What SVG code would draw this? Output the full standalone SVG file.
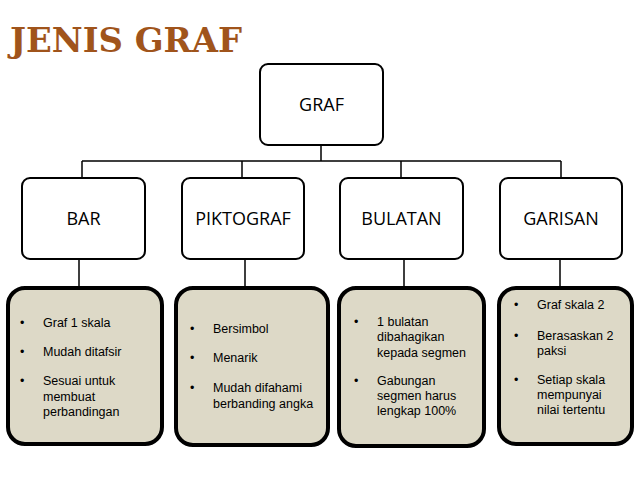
<svg xmlns="http://www.w3.org/2000/svg" width="638" height="479" viewBox="0 0 638 479">
<style>
.box{fill:#fff;stroke:#000;stroke-width:2}
.det{fill:#DDD9C7;stroke:#000;stroke-width:4}
.lbl{font-family:"Open Sans","Liberation Sans",sans-serif;font-size:18px;text-anchor:middle;fill:#000}
.t{font-family:"Liberation Sans",Arial,sans-serif;font-size:12.5px;fill:#000}
.c{stroke:#000;stroke-width:1.5;fill:none}
</style>
<rect width="638" height="479" fill="#fff"/>
<text x="10" y="52" font-family="DejaVu Serif,serif" font-weight="bold" font-size="34" fill="#A0541B" textLength="232" lengthAdjust="spacingAndGlyphs">JENIS GRAF</text>
<g id="connectors">
<path class="c" d="M321 145V161M82 161H561M82 161V178M242 161V178M401 161V178M561 161V178M79 259V287M245 259V287M404 259V287M560 259V287"/>
</g>
<g id="graf"><rect class="box" x="260" y="64" width="123" height="81" rx="8"/><text class="lbl" x="321.5" y="111">GRAF</text></g>
<g id="bar"><rect class="box" x="22" y="178" width="123" height="81" rx="8"/><text class="lbl" x="83.5" y="225">BAR</text></g>
<g id="piktograf"><rect class="box" x="182" y="178" width="122" height="81" rx="8"/><text class="lbl" x="243" y="225">PIKTOGRAF</text></g>
<g id="bulatan"><rect class="box" x="340" y="178" width="123" height="81" rx="8"/><text class="lbl" x="401.5" y="225">BULATAN</text></g>
<g id="garisan"><rect class="box" x="500" y="178" width="122" height="81" rx="8"/><text class="lbl" x="561" y="225">GARISAN</text></g>
<g id="bar-detail"><rect class="det" x="8" y="288" width="154" height="156" rx="17"/>
<text class="t" x="20" y="327">•</text><text class="t" x="43" y="327">Graf 1 skala</text>
<text class="t" x="20" y="356">•</text><text class="t" x="43" y="356">Mudah ditafsir</text>
<text class="t" x="20" y="385">•</text><text class="t" x="43" y="385">Sesuai untuk</text><text class="t" x="43" y="401">membuat</text><text class="t" x="43" y="416">perbandingan</text></g>
<g id="piktograf-detail"><rect class="det" x="176" y="288" width="152" height="157" rx="17"/>
<text class="t" x="190" y="333">•</text><text class="t" x="213" y="333">Bersimbol</text>
<text class="t" x="190" y="362">•</text><text class="t" x="213" y="362">Menarik</text>
<text class="t" x="190" y="392">•</text><text class="t" x="213" y="392">Mudah difahami</text><text class="t" x="213" y="408">berbanding angka</text></g>
<g id="bulatan-detail"><rect class="det" x="339" y="288" width="145" height="158" rx="17"/>
<text class="t" x="354" y="326">•</text><text class="t" x="377" y="326">1 bulatan</text><text class="t" x="377" y="341">dibahagikan</text><text class="t" x="377" y="357">kepada segmen</text>
<text class="t" x="354" y="385">•</text><text class="t" x="377" y="385">Gabungan</text><text class="t" x="377" y="400">segmen harus</text><text class="t" x="377" y="415">lengkap 100%</text></g>
<g id="garisan-detail"><rect class="det" x="499" y="288" width="133" height="156" rx="17"/>
<text class="t" x="514" y="309">•</text><text class="t" x="537" y="309">Graf skala 2</text>
<text class="t" x="514" y="340">•</text><text class="t" x="537" y="340">Berasaskan 2</text><text class="t" x="537" y="355">paksi</text>
<text class="t" x="514" y="384">•</text><text class="t" x="537" y="384">Setiap skala</text><text class="t" x="537" y="399">mempunyai</text><text class="t" x="537" y="414">nilai tertentu</text></g>
</svg>
